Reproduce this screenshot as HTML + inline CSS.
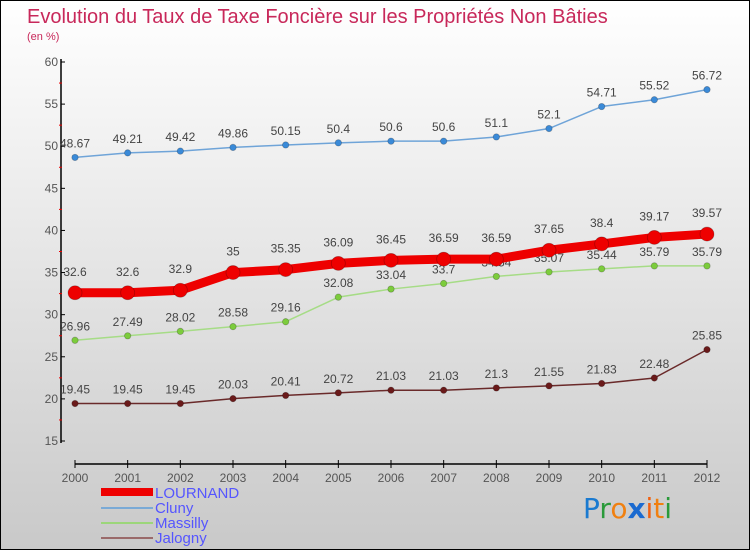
<!DOCTYPE html>
<html><head><meta charset="utf-8"><style>
html,body{margin:0;padding:0;}
body{width:750px;height:550px;overflow:hidden;font-family:"Liberation Sans",sans-serif;}
#wrap{position:relative;width:748px;height:548px;border:1px solid #000;background:linear-gradient(#ffffff,#c9c9c9);}
svg{position:absolute;left:0;top:0;}
</style></head><body>
<div id="wrap">
<svg id="chart" width="748" height="548">
<text x="26" y="22" font-size="20" fill="#c8285a">Evolution du Taux de Taxe Foncière sur les Propriétés Non Bâties</text>
<text x="26" y="39" font-size="11" fill="#c8285a">(en %)</text>
<g id="axes"></g><g id="series"></g>
<g>
<rect x="100" y="487" width="52" height="8" fill="#e00"/>
<text x="154" y="497" font-size="15" fill="#5555ff">LOURNAND</text>
<rect x="100" y="506" width="52" height="2" fill="#7aaad6"/>
<text x="154" y="512" font-size="15" fill="#5555ff">Cluny</text>
<rect x="100" y="521" width="52" height="2" fill="#9cd67a"/>
<text x="154" y="527" font-size="15" fill="#5555ff">Massilly</text>
<rect x="100" y="536" width="52" height="2" fill="#9a6a6a"/>
<text x="154" y="542" font-size="15" fill="#5555ff">Jalogny</text>
</g>
<g font-size="28" font-family="'DejaVu Sans',sans-serif">
<text x="582" y="517"><tspan fill="#1a7ad0">P</tspan><tspan fill="#2a9a3a">r</tspan><tspan fill="#f08010">o</tspan><tspan fill="#1a6ad0" font-weight="bold">x</tspan><tspan fill="#f06010">i</tspan><tspan fill="#f08010">t</tspan><tspan fill="#2a9a3a">i</tspan></text>
</g>
</svg></div>
<script>
const years=[2000,2001,2002,2003,2004,2005,2006,2007,2008,2009,2010,2011,2012];
const lournand=[32.6,32.6,32.9,35,35.35,36.09,36.45,36.59,36.59,37.65,38.4,39.17,39.57];
const cluny=[48.67,49.21,49.42,49.86,50.15,50.4,50.6,50.6,51.1,52.1,54.71,55.52,56.72];
const massilly=[26.96,27.49,28.02,28.58,29.16,32.08,33.04,33.7,34.54,35.07,35.44,35.79,35.79];
const jalogny=[19.45,19.45,19.45,20.03,20.41,20.72,21.03,21.03,21.3,21.55,21.83,22.48,25.85];
const yTicks=[15,20,25,30,35,40,45,50,55,60];
const NS="http://www.w3.org/2000/svg";
const x=i=>74+i*(632/(years.length-1));
const y=v=>440-(v-15)*(379/45);
function mk(tag,attrs,parent){const e=document.createElementNS(NS,tag);for(const k in attrs)e.setAttribute(k,attrs[k]);parent.appendChild(e);return e;}
const axes=document.getElementById('axes');
let a=mk('line',{x1:60,y1:58,x2:60,y2:442,stroke:'#000','stroke-width':1.5},axes);


a=mk('line',{x1:74,y1:463,x2:706,y2:463,stroke:'#000','stroke-width':1.5},axes);


yTicks.forEach(t=>{
 mk('line',{x1:60,y1:y(t),x2:64,y2:y(t),stroke:'#000'},axes);
 if(t<60) mk('line',{x1:58,y1:y(t+2.5),x2:61,y2:y(t+2.5),stroke:'#e00'},axes);
 const tx=mk('text',{x:57,y:y(t)+4,'font-size':12,fill:'#555','text-anchor':'end'},axes);
 tx.textContent=t;
 
 
});
years.forEach((yr,i)=>{
 mk('line',{x1:x(i),y1:459,x2:x(i),y2:467,stroke:'#000'},axes);
 const tx=mk('text',{x:x(i),y:481,'font-size':12,fill:'#555','text-anchor':'middle'},axes);
 tx.textContent=yr;
 
 
});
const S=document.getElementById('series');
function draw(name,vals,color,dot,w,r,off){
 const g=mk('g',{},S);
 
 
 const p=mk('polyline',{points:vals.map((v,i)=>x(i)+','+y(v)).join(' '),fill:'none',stroke:color,'stroke-width':w,'stroke-linejoin':'round'},g);
 
 
 vals.forEach((v,i)=>{
  const c=mk('circle',{cx:x(i),cy:y(v),r:r,fill:dot,stroke:'rgba(0,0,0,0.25)','stroke-width':0.8},g);
  
  
  const t=mk('text',{x:x(i),y:y(v)-off,'font-size':12,fill:'#444','text-anchor':'middle'},g);
  t.textContent=v;
  
  
 });
}
draw('cluny',cluny,'#6fa4d8','#3a8ad8',1.5,3.2,10);
draw('massilly',massilly,'#a6dc86','#7ccc3c',1.5,3.2,10);
draw('jalogny',jalogny,'#6a2a2a','#6a1a1a',1.5,3.2,10);
draw('lournand',lournand,'#ee0000','#ee0000',9,7,17);
</script>
</body></html>
